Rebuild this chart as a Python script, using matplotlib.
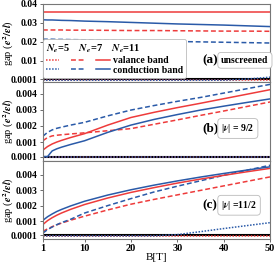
import numpy as np
import matplotlib
matplotlib.use("Agg")
import matplotlib.pyplot as plt
from matplotlib.lines import Line2D

plt.rcParams['font.family'] = ['Liberation Serif', 'DejaVu Serif']
plt.rcParams['font.weight'] = 'bold'
plt.rcParams['mathtext.fontset'] = 'stix'

# magnetic field grid
B = [1, 2, 3, 4, 5, 7, 10, 15, 20, 25, 30, 35, 40, 45, 50]

# (a) unscreened
a_val_11 = [0.0357] * 15
a_con_11 = [0.0316, 0.0315, 0.0315, 0.0314, 0.0313, 0.0312, 0.0309, 0.0306,
            0.0302, 0.0298, 0.0294, 0.0291, 0.0288, 0.0284, 0.0280]
a_val_7 = [0.0262, 0.0262, 0.0262, 0.0262, 0.0262, 0.0261, 0.0261, 0.0260,
           0.0259, 0.0259, 0.0258, 0.0257, 0.0256, 0.0256, 0.0255]
a_con_7 = [0.0213, 0.0213, 0.0213, 0.0212, 0.0212, 0.0211, 0.0210, 0.0207,
           0.0205, 0.0203, 0.0201, 0.0199, 0.0197, 0.0195, 0.0193]
a_val_5 = [-0.0004] * 15
a_con_5 = [-0.0004] * 13 + [0.0002, 0.0012]

# (b) |nu| = 9/2
b_con_7 = [0.00136, 0.00160, 0.00175, 0.00185, 0.00192, 0.00205, 0.00222, 0.00262,
           0.00298, 0.00326, 0.00352, 0.00376, 0.00403, 0.00430, 0.00457]
b_val_11 = [0.00050, 0.00072, 0.00088, 0.00100, 0.00110, 0.00128, 0.00152, 0.00205,
            0.00252, 0.00284, 0.00313, 0.00340, 0.00368, 0.00396, 0.00424]
b_con_11 = [0.00010, 0.00010, 0.00045, 0.00058, 0.00068, 0.00085, 0.00108, 0.00160,
            0.00205, 0.00240, 0.00270, 0.00298, 0.00322, 0.00345, 0.00367]
b_val_7 = [0.00108, 0.00128, 0.00138, 0.00142, 0.00145, 0.00150, 0.00157, 0.00170,
           0.00183, 0.00210, 0.00237, 0.00265, 0.00292, 0.00320, 0.00348]
b_val_5 = [0.00005] * 15
b_con_5 = [0.00005] * 15

# (c) |nu| = 11/2
c_con_11 = [0.00105, 0.00128, 0.00146, 0.00162, 0.00175, 0.00198, 0.00228, 0.00268,
            0.00302, 0.00332, 0.00359, 0.00384, 0.00407, 0.00429, 0.00450]
c_val_11 = [0.00078, 0.00103, 0.00122, 0.00138, 0.00152, 0.00176, 0.00207, 0.00249,
            0.00285, 0.00316, 0.00345, 0.00371, 0.00395, 0.00418, 0.00440]
c_con_7 = [0.00023, 0.00045, 0.00062, 0.00077, 0.00090, 0.00112, 0.00152, 0.00200,
           0.00245, 0.00288, 0.00325, 0.00360, 0.00395, 0.00428, 0.00460]
c_val_7 = [0.00034, 0.00050, 0.00064, 0.00076, 0.00087, 0.00106, 0.00132, 0.00172,
           0.00209, 0.00240, 0.00269, 0.00298, 0.00327, 0.00356, 0.00385]
c_val_5 = [0.00005] * 15
c_con_5 = [0.00005] * 9 + [0.00005, 0.00013, 0.00032, 0.00052, 0.00071, 0.00090]

a_ticks = [0.0001, 0.01, 0.02, 0.03, 0.04]
a_labels = ['0.0001', '0.01', '0.02', '0.03', '0.04']
bc_ticks = [0.0001, 0.001, 0.002, 0.003, 0.004]
bc_labels = ['0.0001', '0.001', '0.002', '0.003', '0.004']
x_ticks = [1, 10, 20, 30, 40, 50]

RED = '#ee3b3b'
BLUE = '#2a5aa8'
DOT = (0, (1, 1))
DASH = (0, (3.2, 1.8))
LW = 1.1

fig, axes = plt.subplots(3, 1, figsize=(2.75, 2.62), dpi=100, sharex=True)
fig.subplots_adjust(left=0.156, right=0.982, top=0.985, bottom=0.088, hspace=0)

panels = [
    (axes[0], [a_val_5, a_val_7, a_val_11], [a_con_5, a_con_7, a_con_11],
     (-0.0015, 0.0400), a_ticks, a_labels, '(a)', 'unscreened', 0.28),
    (axes[1], [b_val_5, b_val_7, b_val_11], [b_con_5, b_con_7, b_con_11],
     (-0.00015, 0.0047), bc_ticks, bc_labels, '(b)', r'|$\nu$| = 9/2', 0.41),
    (axes[2], [c_val_5, c_val_7, c_val_11], [c_con_5, c_con_7, c_con_11],
     (-0.00015, 0.0049), bc_ticks, bc_labels, '(c)', r'|$\nu$| =11/2', 0.43),
]

styles = [DOT, DASH, '-']
for ax, vals, cons, ylim, yt, yl, tag, note, ty in panels:
    ax.axhline(0.0001, color='black', lw=1.5, zorder=1)
    for v, c, ls in zip(vals, cons, styles):
        ax.plot(B, v, color=RED, ls=ls, lw=LW, zorder=2)
        ax.plot(B, c, color=BLUE, ls=ls, lw=LW, zorder=2)
    ax.set_xlim(1, 50)
    ax.set_ylim(*ylim)
    ax.set_yticks(yt)
    ax.set_yticklabels(yl)
    ax.set_xticks(x_ticks)
    ax.tick_params(labelsize=7, length=2.5, width=0.6, pad=1.5, color='#555555')
    for s in ax.spines.values():
        s.set_color('#777777')
        s.set_linewidth(0.8)
    ax.set_ylabel(r'gap ($e^2/\epsilon l$)', fontsize=7.5)
    ax.yaxis.set_label_coords(-0.118, 0.5)
    ax.text(0.700, ty, tag, transform=ax.transAxes,
            fontsize=9.5, ha='left', va='center')
    ax.text(0.785, ty, note, transform=ax.transAxes,
            fontsize=7, ha='left', va='center',
            bbox=dict(boxstyle='round,pad=0.35', fc='white', ec='#bbbbbb', lw=0.6))

axes[2].set_xticklabels([str(t) for t in x_ticks])
axes[2].tick_params(axis='x', labelsize=7.5)
axes[2].set_xlabel('B[T]', fontsize=8, labelpad=0)

# legend in panel (a)
handles = []
labels = []
for ls in styles:
    handles.append(Line2D([], [], color=RED, ls=ls, lw=LW))
    labels.append('valance band' if ls == '-' else '')
    handles.append(Line2D([], [], color=BLUE, ls=ls, lw=LW))
    labels.append('conduction band' if ls == '-' else '')
leg = axes[0].legend(handles, labels, ncol=3, loc='lower left',
                     bbox_to_anchor=(0.0, 0.06), borderaxespad=0,
                     title=r'$N_e$=5    $N_e$=7    $N_e$=11',
                     alignment='left', fontsize=7, title_fontsize=7.5,
                     handlelength=1.4, handletextpad=0.3, columnspacing=0.9,
                     labelspacing=0.05, borderpad=0.3, fancybox=True,
                     framealpha=1, edgecolor='#bbbbbb')
leg.get_frame().set_linewidth(0.6)
leg._legend_box.sep = 1

fig.savefig('out.png', dpi=100)
